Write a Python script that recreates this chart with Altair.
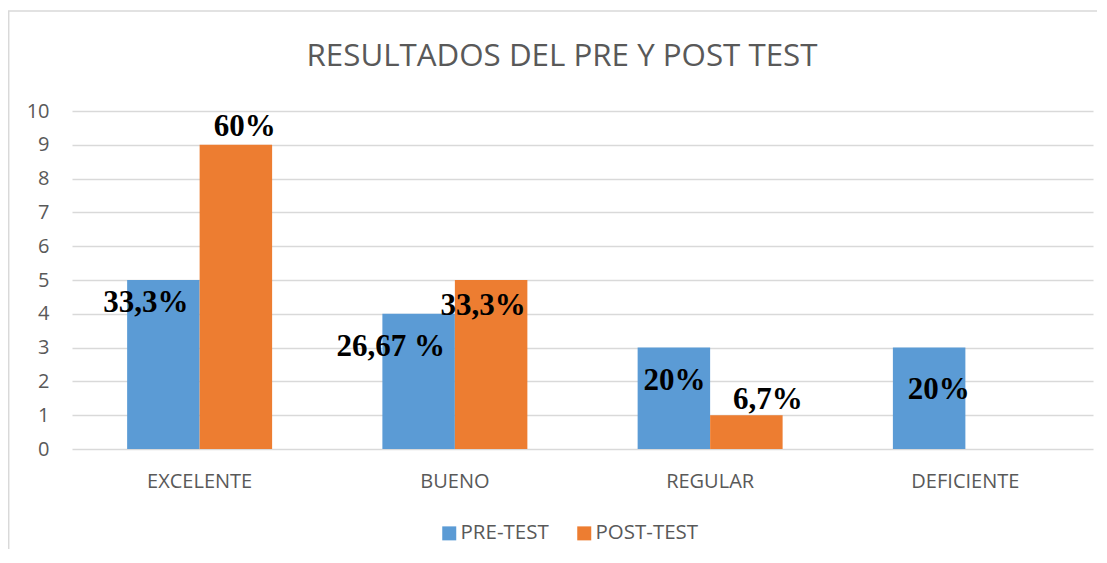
import altair as alt
import pandas as pd

# ---- data ----
categories = ["EXCELENTE", "BUENO", "REGULAR", "DEFICIENTE"]
series = ["PRE-TEST", "POST-TEST"]
pre_values = [5, 4, 3, 3]
post_values = [9, 5, 1, 0]
pre_labels = ["33,3%", "26,67 %", "20%", "20%"]
post_labels = ["60%", "33,3%", "6,7%", ""]
y_ticks = [0, 1, 2, 3, 4, 5, 6, 7, 8, 9, 10]
colors = ["#5B9BD5", "#ED7D31"]
title_text = "RESULTADOS DEL PRE Y POST TEST"

rows = []
for c, v, l in zip(categories, pre_values, pre_labels):
    rows.append({"category": c, "series": "PRE-TEST", "value": v, "label": l})
for c, v, l in zip(categories, post_values, post_labels):
    rows.append({"category": c, "series": "POST-TEST", "value": v, "label": l})
df = pd.DataFrame(rows)

# manual label nudges (px) as placed in the original chart
label_nudges = {
    ("EXCELENTE", "PRE-TEST"): (-17.5, 32),
    ("EXCELENTE", "POST-TEST"): (9, -9),
    ("BUENO", "PRE-TEST"): (-28, 42),
    ("BUENO", "POST-TEST"): (-8, 35),
    ("REGULAR", "PRE-TEST"): (0.5, 42),
    ("REGULAR", "POST-TEST"): (21.5, -6),
    ("DEFICIENTE", "PRE-TEST"): (9.5, 51),
}

GRAY = "#595959"
GRID = "#D9D9D9"
FONT = "Open Sans"

x_axis = alt.Axis(
    title=None, labelAngle=0, domain=False, ticks=False, tickSize=0,
    labelFont=FONT, labelFontSize=20, labelColor=GRAY,
    labelBaseline="alphabetic", labelPadding=38, grid=False,
)
y_axis = alt.Axis(
    title=None, values=y_ticks, domain=False, ticks=False,
    tickSize=0, labelFont=FONT, labelFontSize=20, labelColor=GRAY,
    labelPadding=23, labelOverlap=False, grid=True, gridColor=GRID,
    gridWidth=1.5,
)
x_scale = alt.Scale(paddingInner=0.432, paddingOuter=0.216)
y_scale = alt.Scale(domain=[0, 10], nice=False)


def x_enc():
    return alt.X("category:N", sort=categories, scale=x_scale, axis=x_axis)


def y_enc():
    return alt.Y("value:Q", scale=y_scale, axis=y_axis)


def xoff_enc():
    return alt.XOffset("series:N", sort=series,
                       scale=alt.Scale(paddingInner=0, paddingOuter=0))


bars = alt.Chart(df).mark_bar().encode(
    x=x_enc(),
    y=y_enc(),
    xOffset=xoff_enc(),
    color=alt.Color(
        "series:N",
        sort=series,
        scale=alt.Scale(domain=series, range=colors),
        legend=alt.Legend(
            title=None, orient="none", direction="horizontal",
            legendX=367, legendY=412, padding=0,
            symbolType="square", symbolSize=196, symbolStrokeWidth=0,
            labelFont=FONT, labelFontSize=20.5, labelColor=GRAY,
            labelOffset=1, columnPadding=25,
        ),
    ),
)

text_layers = []
for (cat, ser), (dx, dy) in label_nudges.items():
    t = alt.Chart(df).transform_filter(
        (alt.datum.category == cat) & (alt.datum.series == ser)
    ).mark_text(
        font="Liberation Serif", fontWeight="bold", fontSize=31,
        color="#000000", baseline="alphabetic", align="center", dx=dx, dy=dy,
    ).encode(
        x=x_enc(),
        y=y_enc(),
        xOffset=xoff_enc(),
        text="label:N",
    )
    text_layers.append(t)

frame = alt.Data(values=[{}])
top_border = alt.Chart(frame).mark_rule(color=GRID, strokeWidth=1.5).encode(
    x=alt.value(-64), x2=alt.value(1030), y=alt.value(-100)
)
left_border = alt.Chart(frame).mark_rule(color=GRID, strokeWidth=1.5).encode(
    x=alt.value(-63.3), y=alt.value(-100), y2=alt.value(450)
)
title = alt.Chart(frame).mark_text(
    text=title_text, font=FONT, fontSize=31.3, color=GRAY,
    align="center", baseline="alphabetic",
).encode(x=alt.value(490), y=alt.value(-45))

chart = alt.layer(bars, *text_layers, top_border, left_border, title).properties(
    width=1021,
    height=338,
    autosize=alt.AutoSizeParams(type="none"),
    padding={"left": 64, "top": 103, "right": 4, "bottom": 100},
).configure(background="white").configure_view(stroke=None)

chart.save("out.html", embed_options={"renderer": "svg", "actions": False})
